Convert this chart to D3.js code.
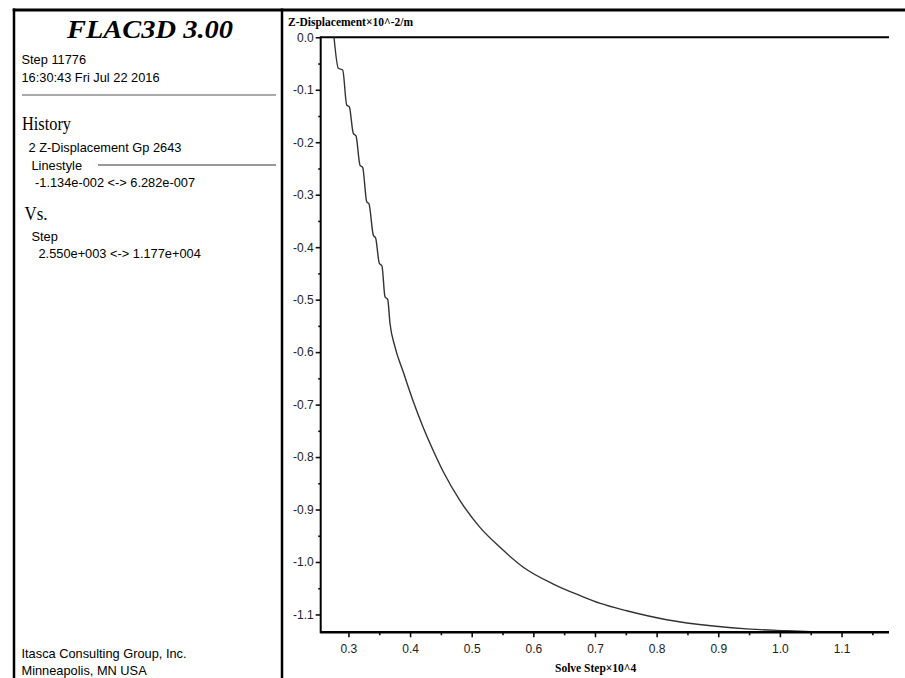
<!DOCTYPE html>
<html>
<head>
<meta charset="utf-8">
<script src="https://cdn.jsdelivr.net/npm/d3@7/dist/d3.min.js"></script>
<style>
  html, body { margin: 0; padding: 0; background: #fff; }
  svg { display: block; }
  .sans { font-family: "Liberation Sans", Arial, sans-serif; }
  .serif { font-family: "Liberation Serif", "Times New Roman", serif; }
</style>
</head>
<body>
<svg id="chart" width="905" height="678"></svg>
<script>
// ---- data ----
const steps = [0.2766, 0.2836, 0.2907, 0.2972, 0.3014, 0.3079, 0.3123, 0.3188, 0.3231, 0.3296,
  0.3334, 0.3403, 0.3442, 0.3501, 0.3544, 0.3593, 0.3637, 0.3674, 0.3755, 0.3890,
  0.4052, 0.4215, 0.4377, 0.4539, 0.4810, 0.5134, 0.5459, 0.5837, 0.6324, 0.6757,
  0.7087, 0.7514, 0.8163, 0.8919, 0.9516, 1.0110, 1.0566, 1.1110, 1.1770];
const zDisp = [0.0000, -0.0591, -0.0623, -0.1290, -0.1323, -0.1830, -0.1880, -0.2439, -0.2478, -0.3133,
  -0.3177, -0.3768, -0.3830, -0.4307, -0.4359, -0.4944, -0.4994, -0.5450, -0.5900, -0.6380,
  -0.6940, -0.7440, -0.7880, -0.8280, -0.8830, -0.9340, -0.9720, -1.0100, -1.0420, -1.0640,
  -1.0790, -1.0930, -1.1100, -1.1220, -1.1280, -1.1310, -1.1330, -1.1340, -1.1340];

const xDomain = [0.255, 1.177];
const yDomain = [-1.134, 0.0];
const xTickValues = [0.3, 0.4, 0.5, 0.6, 0.7, 0.8, 0.9, 1.0, 1.1];
const xTickLabels = ["0.3", "0.4", "0.5", "0.6", "0.7", "0.8", "0.9", "1.0", "1.1"];
const xMinorTicks = [0.35, 0.45, 0.55, 0.65, 0.75, 0.85, 0.95, 1.05, 1.15];
const yTickValues = [0.0, -0.1, -0.2, -0.3, -0.4, -0.5, -0.6, -0.7, -0.8, -0.9, -1.0, -1.1];
const yTickLabels = ["0.0", "-0.1", "-0.2", "-0.3", "-0.4", "-0.5", "-0.6", "-0.7", "-0.8", "-0.9", "-1.0", "-1.1"];
const yMinorTicks = [-0.05, -0.15, -0.25, -0.35, -0.45, -0.55, -0.65, -0.75, -0.85, -0.95, -1.05];

const titleText = "FLAC3D 3.00";
const infoLines = ["Step 11776", "16:30:43 Fri Jul 22 2016"];
const historyTitle = "History";
const historyLines = ["2 Z-Displacement Gp 2643", "Linestyle", "-1.134e-002 <-> 6.282e-007"];
const vsTitle = "Vs.";
const vsLines = ["Step", "2.550e+003 <-> 1.177e+004"];
const footerLines = ["Itasca Consulting Group, Inc.", "Minneapolis, MN  USA"];
const yAxisTitle = "Z-Displacement\u00d710^-2/m";
const xAxisTitle = "Solve Step\u00d710^4";

// ---- drawing ----
const svg = d3.select("#chart");
const plotL = 320.7, plotR = 889, plotT = 37.3, plotB = 632.3;
const x = d3.scaleLinear().domain(xDomain).range([plotL, plotR]);
const y = d3.scaleLinear().domain(yDomain).range([plotB, plotT]);

// frame
svg.append("line").attr("x1", 12.7).attr("x2", 905).attr("y1", 10).attr("y2", 10)
  .attr("stroke", "#000").attr("stroke-width", 3);
svg.append("line").attr("x1", 14).attr("x2", 14).attr("y1", 8.5).attr("y2", 678)
  .attr("stroke", "#000").attr("stroke-width", 2.5);
svg.append("line").attr("x1", 282).attr("x2", 282).attr("y1", 8.5).attr("y2", 678)
  .attr("stroke", "#000").attr("stroke-width", 2.5);

// left panel text
const lp = svg.append("g");
lp.append("text").attr("class", "serif").attr("x", 67).attr("y", 38)
  .attr("font-size", 25).attr("font-weight", "bold")
  .attr("font-style", "italic").attr("fill", "#000")
  .attr("textLength", 166).attr("lengthAdjust", "spacingAndGlyphs").text(titleText);
lp.append("text").attr("class", "sans").attr("x", 21.5).attr("y", 64).attr("font-size", 12.8).text(infoLines[0]);
lp.append("text").attr("class", "sans").attr("x", 21.5).attr("y", 81.5).attr("font-size", 12.8).text(infoLines[1]);
lp.append("line").attr("x1", 22).attr("x2", 276).attr("y1", 95).attr("y2", 95)
  .attr("stroke", "#555").attr("stroke-width", 1);
lp.append("text").attr("class", "serif").attr("x", 22).attr("y", 130).attr("font-size", 18.5)
  .attr("textLength", 49).attr("lengthAdjust", "spacingAndGlyphs").text(historyTitle);
lp.append("text").attr("class", "sans").attr("x", 28.5).attr("y", 151.5).attr("font-size", 12.8).text(historyLines[0]);
lp.append("text").attr("class", "sans").attr("x", 31.5).attr("y", 169.5).attr("font-size", 12.8).text(historyLines[1]);
lp.append("line").attr("x1", 98).attr("x2", 276).attr("y1", 165).attr("y2", 165)
  .attr("stroke", "#333").attr("stroke-width", 1.2);
lp.append("text").attr("class", "sans").attr("x", 35).attr("y", 187).attr("font-size", 12.8).text(historyLines[2]);
lp.append("text").attr("class", "serif").attr("x", 24.5).attr("y", 220).attr("font-size", 18.5)
  .attr("textLength", 23).attr("lengthAdjust", "spacingAndGlyphs").text(vsTitle);
lp.append("text").attr("class", "sans").attr("x", 31.5).attr("y", 240.5).attr("font-size", 12.8).text(vsLines[0]);
lp.append("text").attr("class", "sans").attr("x", 38.5).attr("y", 258).attr("font-size", 12.8).text(vsLines[1]);
lp.append("text").attr("class", "sans").attr("x", 21.5).attr("y", 658).attr("font-size", 12.8).text(footerLines[0]);
lp.append("text").attr("class", "sans").attr("x", 21.5).attr("y", 675).attr("font-size", 12.8).text(footerLines[1]);

// axes
const yAxis = d3.axisLeft(y).tickValues(yTickValues)
  .tickFormat((d, i) => yTickLabels[i]).tickSize(5).tickSizeOuter(0).tickPadding(2);
const yMinor = d3.axisLeft(y).tickValues(yMinorTicks).tickFormat("").tickSize(2.5).tickSizeOuter(0);
const xAxis = d3.axisBottom(x).tickValues(xTickValues)
  .tickFormat((d, i) => xTickLabels[i]).tickSize(5).tickSizeOuter(0).tickPadding(7);
const xMinor = d3.axisBottom(x).tickValues(xMinorTicks).tickFormat("").tickSize(3).tickSizeOuter(0);

function styleAxis(g) {
  g.selectAll(".domain").remove();
  g.selectAll(".tick line").attr("stroke", "#111").attr("stroke-width", 1.6);
  g.selectAll(".tick text").attr("font-family", "'Liberation Sans', Arial, sans-serif")
    .attr("font-size", 12).attr("fill", "#222");
}
svg.append("g").attr("transform", `translate(${plotL},0)`).call(yAxis).call(styleAxis);
svg.append("g").attr("transform", `translate(${plotL},0)`).call(yMinor).call(styleAxis);
svg.append("g").attr("transform", `translate(0,${plotB})`).call(xAxis).call(styleAxis);
svg.append("g").attr("transform", `translate(0,${plotB})`).call(xMinor).call(styleAxis);

// axis lines
svg.append("line").attr("x1", plotL).attr("x2", plotL).attr("y1", plotT - 1).attr("y2", plotB + 1)
  .attr("stroke", "#000").attr("stroke-width", 2);
svg.append("line").attr("x1", plotL).attr("x2", plotR).attr("y1", plotT).attr("y2", plotT)
  .attr("stroke", "#000").attr("stroke-width", 2);

// curve
const pts = steps.map((s, i) => [s, zDisp[i]]);
svg.append("path").datum(pts)
  .attr("d", d3.line().curve(d3.curveMonotoneX).x(d => x(d[0])).y(d => y(d[1])))
  .attr("fill", "none").attr("stroke", "#333").attr("stroke-width", 1.4);

svg.append("line").attr("x1", plotL).attr("x2", plotR).attr("y1", plotB).attr("y2", plotB)
  .attr("stroke", "#000").attr("stroke-width", 2.4);

// axis titles
svg.append("text").attr("class", "serif").attr("x", 288).attr("y", 25.5)
  .attr("font-size", 11.5).attr("font-weight", "bold").text(yAxisTitle);
svg.append("text").attr("class", "serif").attr("x", 555).attr("y", 671.5)
  .attr("font-size", 11.5).attr("font-weight", "bold").text(xAxisTitle);
</script>
</body>
</html>
